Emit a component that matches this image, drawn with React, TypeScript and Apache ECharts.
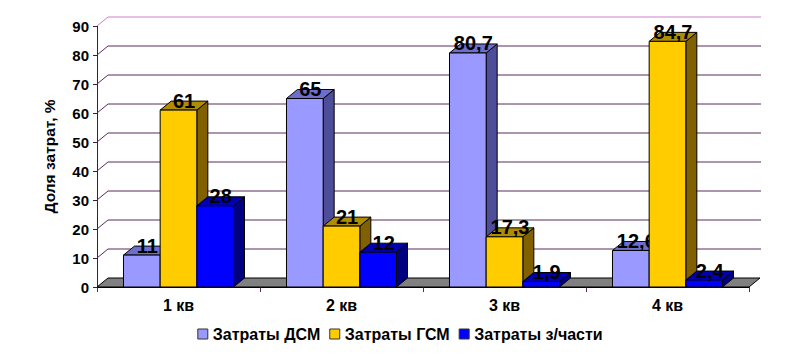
import React, { useEffect, useRef } from "react";
import * as echarts from "echarts";

const categories = ["1 кв", "2 кв", "3 кв", "4 кв"];
const seriesNames = ["Затраты ДСМ", "Затраты ГСМ", "Затраты з/части"];
const dsmValues = [11, 65, 80.7, 12.6];
const gsmValues = [61, 21, 17.3, 84.7];
const partsValues = [28, 12, 1.9, 2.4];
const yTickValues = [0, 10, 20, 30, 40, 50, 60, 70, 80, 90];
const yAxisTitle = "Доля затрат, %";

const DX = 11;
const DY = -9;
const FONT = '"Liberation Sans", Arial, Helvetica, sans-serif';

const faceColors = [
  { front: "#9999FF", top: "#6E6ECC", side: "#4D4D99" },
  { front: "#FFCC00", top: "#B08C00", side: "#806000" },
  { front: "#0000FF", top: "#0000B0", side: "#000080" },
];

const fmt = (v: number) => String(v).replace(".", ",");

function barRenderer(si: number) {
  return (params: any, api: any) => {
    const ci = api.value(0);
    const v = api.value(1);
    const top = api.coord([ci, v]);
    const base = api.coord([ci, 0]);
    const band = api.size([1, 0])[0];
    const w = band * 0.225;
    const x = top[0] - 1.5 * w + si * w;
    const yTop = top[1];
    const y0 = base[1];
    const c = faceColors[si];
    const stroke = { stroke: "#000", lineWidth: 1 };
    return {
      type: "group",
      children: [
        {
          type: "polygon",
          shape: {
            points: [
              [x + w, yTop],
              [x + w + DX, yTop + DY],
              [x + w + DX, y0 + DY],
              [x + w, y0],
            ],
          },
          style: { fill: c.side, ...stroke },
        },
        {
          type: "polygon",
          shape: {
            points: [
              [x, yTop],
              [x + DX, yTop + DY],
              [x + w + DX, yTop + DY],
              [x + w, yTop],
            ],
          },
          style: { fill: c.top, ...stroke },
        },
        {
          type: "rect",
          shape: { x, y: yTop, width: w, height: y0 - yTop },
          style: { fill: c.front, ...stroke },
        },
        {
          type: "text",
          x: x + w / 2 + DX / 2,
          y: yTop + DY / 2 - 5,
          style: {
            text: fmt(v),
            fill: "#000",
            font: `bold 20px ${FONT}`,
            align: "center",
            verticalAlign: "middle",
          },
        },
      ],
    };
  };
}

function gridRenderer(params: any, api: any) {
  const v = api.value(1);
  const cs = params.coordSys;
  const y = api.coord([0, v])[1];
  const x0 = cs.x;
  const x1 = cs.x + cs.width;
  if (v === 0) {
    return {
      type: "polygon",
      shape: {
        points: [
          [x0, y],
          [x1, y],
          [x1 + DX, y + DY],
          [x0 + DX, y + DY],
        ],
      },
      style: { fill: "#808080", stroke: "#000", lineWidth: 1 },
    };
  }
  return {
    type: "polyline",
    shape: {
      points: [
        [x0, y],
        [x0 + DX, y + DY],
        [x1 + DX + 1, y + DY],
      ],
    },
    style: {
      fill: "none",
      stroke: v === 90 ? "#CC80CC" : "#5A2A5A",
      lineWidth: 1,
    },
  };
}

export default function App() {
  const ref = useRef<HTMLDivElement>(null);
  useEffect(() => {
    if (!ref.current) return;
    const chart = echarts.init(ref.current, undefined, { renderer: "svg" });
    const seriesData = [dsmValues, gsmValues, partsValues];
    chart.setOption({
      animation: false,
      backgroundColor: "#fff",
      textStyle: { fontFamily: FONT },
      grid: { left: 97, right: 51, top: 26, bottom: 70, containLabel: false },
      legend: {
        data: seriesNames,
        bottom: 10,
        left: "center",
        icon: "rect",
        itemWidth: 10,
        itemHeight: 10,
        itemGap: 9,
        textStyle: { fontWeight: "bold", fontSize: 16, color: "#000", fontFamily: FONT },
        itemStyle: { borderColor: "#333", borderWidth: 1 },
      },
      xAxis: {
        type: "category",
        data: categories,
        boundaryGap: true,
        axisLine: { show: true, lineStyle: { color: "#000", width: 1 } },
        axisTick: { show: true, length: 5, interval: 0, lineStyle: { color: "#5A2A5A" } },
        axisLabel: { fontWeight: "bold", fontSize: 16, color: "#000", margin: 10, fontFamily: FONT },
        splitLine: { show: false },
      },
      yAxis: {
        type: "value",
        min: 0,
        max: 90,
        interval: 10,
        name: yAxisTitle,
        nameLocation: "middle",
        nameRotate: 90,
        nameGap: 40,
        nameTextStyle: { fontWeight: "bold", fontSize: 15.5, color: "#000", fontFamily: FONT },
        axisLine: { show: true, lineStyle: { color: "#3C1E3C", width: 1 } },
        axisTick: { show: true, length: 4, lineStyle: { color: "#3C1E3C" } },
        axisLabel: { fontWeight: "bold", fontSize: 15, color: "#000", margin: 8, fontFamily: FONT },
        splitLine: { show: false },
      },
      series: [
        {
          type: "custom",
          name: "grid-back",
          silent: true,
          renderItem: gridRenderer,
          data: yTickValues.map((v) => [0, v]),
          z: 1,
        },
        ...seriesNames.map((name, si) => ({
          type: "custom",
          name,
          itemStyle: { color: faceColors[si].front },
          renderItem: barRenderer(si),
          data: seriesData[si].map((v, ci) => [ci, v]),
          z: 2,
        })),
      ],
    });
    return () => chart.dispose();
  }, []);
  return (
    <div
      ref={ref}
      style={{ position: "fixed", left: 0, top: 0, width: 800, height: 357, background: "#fff" }}
    />
  );
}
